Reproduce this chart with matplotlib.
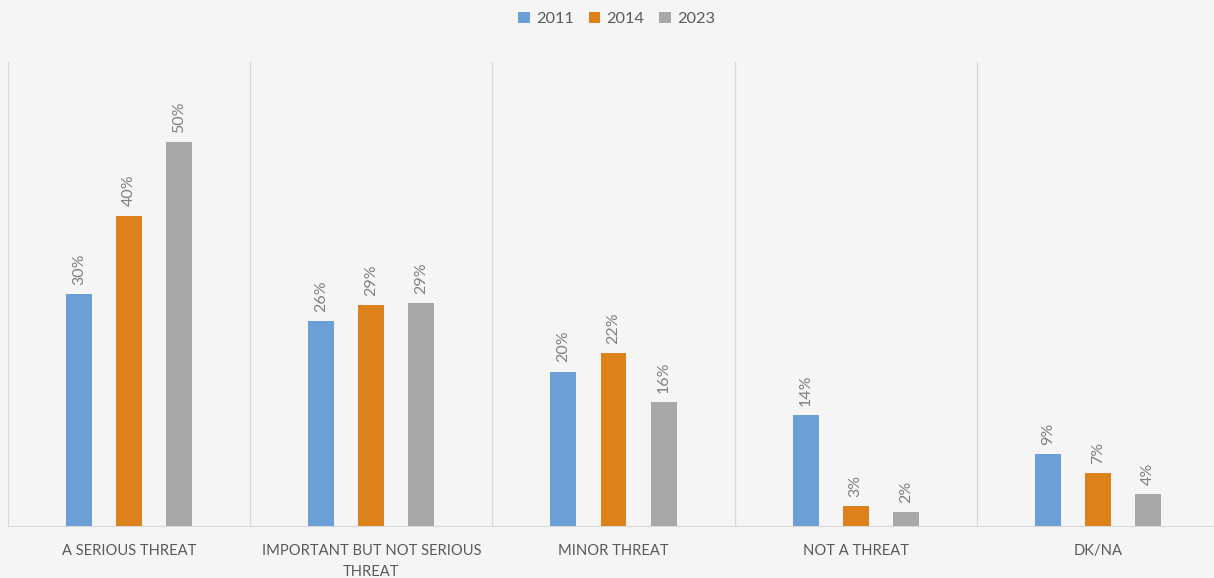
import matplotlib.pyplot as plt
import numpy as np

plt.rcParams['font.family'] = ['Lato', 'DejaVu Sans']

categories = ["A SERIOUS THREAT", "IMPORTANT BUT NOT SERIOUS\nTHREAT",
              "MINOR THREAT", "NOT A THREAT", "DK/NA"]
years = ["2011", "2014", "2023"]
# bar heights, labels as printed
v2011 = [30.2, 26.7, 20.1, 14.4, 9.4]
v2014 = [40.4, 28.8, 22.5, 2.6, 6.9]
v2023 = [50.0, 29.0, 16.1, 1.8, 4.2]
lab2011 = ["30%", "26%", "20%", "14%", "9%"]
lab2014 = ["40%", "29%", "22%", "3%", "7%"]
lab2023 = ["50%", "29%", "16%", "2%", "4%"]

colors = ["#6b9fd5", "#dd821b", "#a8a8a8"]
bg = "#f5f5f5"

fig = plt.figure(figsize=(12.14, 5.78), dpi=100, facecolor=bg)
ax = fig.add_axes([8 / 1214, 52 / 578, 1211 / 1214, 464 / 578])
ax.set_facecolor(bg)

x = np.arange(len(categories))
w = 0.107
off = 0.207
series = [(v2011, lab2011), (v2014, lab2014), (v2023, lab2023)]
for i, (vals, labs) in enumerate(series):
    pos = x + (i - 1) * off
    ax.bar(pos, vals, width=w, color=colors[i], label=years[i], zorder=3)
    for p, v, t in zip(pos, vals, labs):
        ax.text(p, v + 1.2, t, rotation=90, ha="center", va="bottom",
                fontsize=11.5, color="#808080")

for b in np.arange(-0.5, len(categories) + 0.5, 1):
    ax.axvline(b, color="#d9d9d9", lw=1, zorder=1)

ax.set_xlim(-0.5, len(categories) - 0.5)
ax.set_ylim(0, 60.4)
ax.set_yticks([])
ax.set_xticks(x)
ax.set_xticklabels(categories, fontsize=10.6, color="#595959", linespacing=1.65)
ax.tick_params(axis="x", length=0, pad=13)
for s in ["top", "right", "left"]:
    ax.spines[s].set_visible(False)
ax.spines["bottom"].set_color("#d9d9d9")

leg = fig.legend(loc="upper center", bbox_to_anchor=(0.508, 1.005), ncol=3,
                 frameon=False, fontsize=11.8, handlelength=0.7, handleheight=0.7,
                 handletextpad=0.4, columnspacing=0.9)
for t in leg.get_texts():
    t.set_color("#595959")

fig.savefig("out.png", dpi=100, facecolor=bg)
